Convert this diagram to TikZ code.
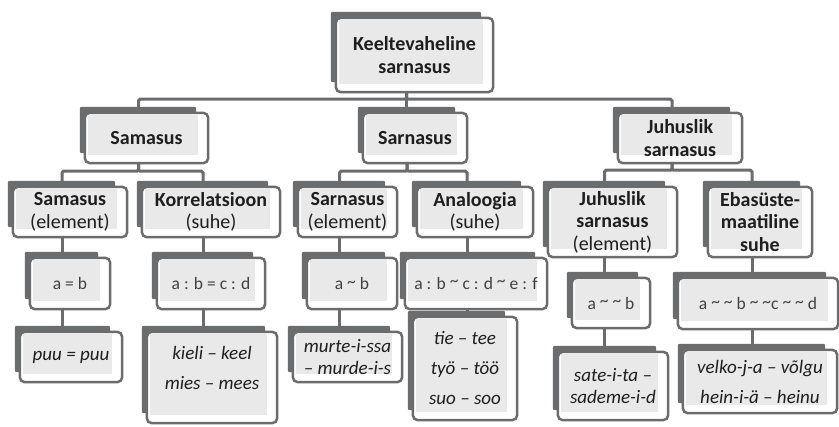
\documentclass[tikz,border=0pt]{standalone}
\usepackage{fontspec}
\setmainfont{Carlito}
\pgfdeclarelayer{cn}\pgfdeclarelayer{l1}\pgfdeclarelayer{l2}\pgfdeclarelayer{l3}
\pgfsetlayers{cn,l1,l2,l3,main}
\definecolor{dk}{HTML}{6B6C6E}
\definecolor{inn}{HTML}{E9E9E9}
\definecolor{tx}{HTML}{1E1E1E}
\newcommand\tl{\raisebox{0.3ex}{\textasciitilde}}
\tikzset{
  hd/.style={align=center, inner sep=0pt, text=tx, font=\bfseries\fontsize{20}{22.5}\selectfont},
  fm/.style={align=center, inner sep=0pt, text=tx!85, font=\fontsize{17.5}{22}\selectfont},
  exa/.style={align=center, inner sep=0pt, text=tx, font=\itshape\fontsize{19}{30}\selectfont},
  exb/.style={align=center, inner sep=0pt, text=tx, font=\itshape\fontsize{19}{22}\selectfont},
  conn/.style={draw=dk, line width=3pt, rounded corners=1.5pt},
}
\newcommand\bx[7][hd]{%
  \node[#1, minimum width={#5-#3}, minimum height={#6-#4}] (#2) at ({(#3+#5)/2},{(#4+#6)/2}) {#7};
  \begin{pgfonlayer}{l1}\fill[dk, rounded corners=2pt] ([shift={(-5,-6)}]#2.north west) rectangle ([shift={(-12,-10)}]#2.south east);\end{pgfonlayer}
  \begin{pgfonlayer}{l2}\draw[dk, line width=2.5pt, fill=white, rounded corners=5pt] (#2.north west) rectangle (#2.south east);\end{pgfonlayer}
  \begin{pgfonlayer}{l3}\fill[inn] ([shift={(3,2)}]#2.north west) rectangle ([shift={(-10,-8)}]#2.south east);\end{pgfonlayer}
}
\begin{document}
\begin{tikzpicture}[x=1pt, y=-1pt]
\useasboundingbox (0,0) rectangle (839,427);
% top
\bx{k}{336}{18}{493}{92}{Keeltevaheline\\sarnasus}
% level 1
\bx{sa}{85}{113}{208}{163}{Samasus}
\bx{sr}{363}{113}{467}{163}{Sarnasus}
\bx{ju}{618}{113}{742}{163}{Juhuslik\\sarnasus}
% level 2
\bx{sae}{13}{187}{127}{237}{Samasus\\{\mdseries (element)}}
\bx{ko}{142}{187}{280}{237}{Korrelatsioon\\{\mdseries (suhe)}}
\bx{sre}{298}{187}{397}{237}{Sarnasus\\{\mdseries (element)}}
\bx{an}{417}{187}{533}{237}{Analoogia\\{\mdseries (suhe)}}
\bx{jue}{548}{187}{677}{257}{Juhuslik\\sarnasus\\{\mdseries (element)}}
\bx{eb}{708}{187}{812}{257}{Ebasüste-\\maatiline\\suhe}
% level 3
\bx[fm]{f1}{30}{258}{110}{309}{a = b}
\bx[fm]{f2}{157}{258}{265}{309}{a : b = c : d}
\bx[fm]{f3}{307}{258}{397}{309}{a \tl{} b}
\bx[fm]{f4}{405}{258}{547}{309}{a : b \tl{} c : d \tl{} e : f}
\bx[fm]{f5}{572}{278}{650}{328}{a \tl{} \tl{} b}
\bx[fm]{f6}{678}{278}{838}{329}{a \tl{} \tl{} b \tl{} \tl{}c \tl{} \tl{} d}
% level 4
\bx[exa]{e1}{20}{332}{122}{382}{puu = puu}
\bx[exa]{e2}{147}{332}{277}{423}{kieli – keel\\mies – mees\rule[-19pt]{0pt}{1pt}}
\bx[exb]{e3}{293}{332}{402}{382}{murte-i-ssa\\– murde-i-s}
\bx[exa]{e4}{413}{317}{517}{420}{tie – tee\\työ – töö\\suo – soo}
\bx[exb]{e5}{558}{352}{668}{420}{sate-i-ta –\\sademe-i-d}
\bx[exa]{e6}{683}{350}{837}{413}{velko-j-a – võlgu\\hein-i-ä – heinu}
% connectors
\begin{pgfonlayer}{cn}
\draw[conn] ([xshift=-8pt]k.south) -- ++(0,7) -| ([xshift=-8pt]sa.north);
\draw[conn] ([xshift=-8pt]k.south) -- ++(0,7) -| ([xshift=-8pt]ju.north);
\draw[conn] ([xshift=-8pt]k.south) -- ([xshift=-8pt]k.south |- sr.north);
\draw[conn] ([xshift=-8pt]sa.south) -- ++(0,8) -| ([xshift=-8pt]sae.north);
\draw[conn] ([xshift=-8pt]sa.south) -- ++(0,8) -| ([xshift=-8pt]ko.north);
\draw[conn] ([xshift=-8pt]sr.south) -- ++(0,8) -| ([xshift=-8pt]sre.north);
\draw[conn] ([xshift=-8pt]sr.south) -- ++(0,8) -| ([xshift=-8pt]an.north);
\draw[conn] ([xshift=-8pt]ju.south) -- ++(0,7) -| ([xshift=-8pt]jue.north);
\draw[conn] ([xshift=-8pt]ju.south) -- ++(0,7) -| ([xshift=-8pt]eb.north);
\draw[conn] ([xshift=-8pt]sae.south) -- ([xshift=-8pt]sae.south |- f1.north);
\draw[conn] ([xshift=-8pt]ko.south) -- ([xshift=-8pt]ko.south |- f2.north);
\draw[conn] ([xshift=-8pt]sre.south) -- ([xshift=-8pt]sre.south |- f3.north);
\draw[conn] ([xshift=-8pt]an.south) -- ([xshift=-8pt]an.south |- f4.north);
\draw[conn] ([xshift=-8pt]jue.south) -- ([xshift=-8pt]jue.south |- f5.north);
\draw[conn] ([xshift=-8pt]eb.south) -- ([xshift=-8pt]eb.south |- f6.north);
\draw[conn] ([xshift=-8pt]sae.south) -- ([xshift=-8pt]sae.south |- e1.north);
\draw[conn] ([xshift=-8pt]ko.south) -- ([xshift=-8pt]ko.south |- e2.north);
\draw[conn] ([xshift=-8pt]sre.south) -- ([xshift=-8pt]sre.south |- e3.north);
\draw[conn] ([xshift=-8pt]an.south) -- ([xshift=-8pt]an.south |- e4.north);
\draw[conn] ([xshift=-8pt]jue.south) -- ([xshift=-8pt]jue.south |- e5.north);
\draw[conn] ([xshift=-8pt]eb.south) -- ([xshift=-8pt]eb.south |- e6.north);
\end{pgfonlayer}
\end{tikzpicture}
\end{document}
